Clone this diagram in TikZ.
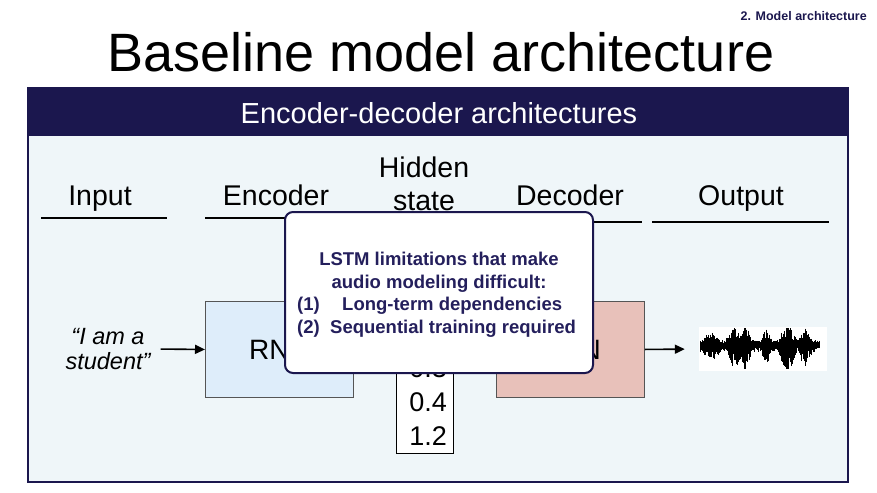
\documentclass[tikz,border=0pt]{standalone}
\usepackage{fontspec}
\setmainfont{Liberation Sans}
\usetikzlibrary{arrows.meta, positioning}

\definecolor{navy}{RGB}{27,23,78}
\definecolor{popupink}{RGB}{36,31,92}
\definecolor{panelbg}{RGB}{239,246,249}
\definecolor{encfill}{RGB}{222,237,250}
\definecolor{decfill}{RGB}{232,193,186}
\definecolor{boxline}{RGB}{85,85,85}

\newcommand{\fsz}[2]{\fontsize{#1}{#2}\selectfont}

\begin{document}
\begin{tikzpicture}[
    x=1pt, y=-1pt,
    heading/.style={font=\fsz{28.5}{33}, anchor=base, inner sep=0pt},
    value/.style={font=\fsz{27}{32}, anchor=base east, inner sep=0pt},
    rule/.style={line width=1.4pt},
    block/.style={
        draw=boxline,
        line width=0.9pt,
        minimum width=148pt,
        minimum height=96pt,
        anchor=north west,
        inner sep=0pt,
        font=\fsz{28}{33}
    },
    flow/.style={line width=1.6pt, -{Triangle[length=10pt, width=9pt]}},
    popuptext/.style={font=\fsz{18.5}{23}\bfseries, text=popupink, anchor=base, inner sep=0pt}
]

\useasboundingbox (0,0) rectangle (877,492);
\fill[white] (0,0) rectangle (877,492);

% panel
\fill[panelbg] (28,136) rectangle (848,482);
\fill[navy] (28,88) rectangle (848,136);
\draw[navy, line width=2.5pt] (28,88) rectangle (848,482);

% titles
\node[font=\fsz{12.5}{14}\bfseries, text=navy, anchor=base east, inner sep=0pt] (section) at (867,21) {2. Model architecture};
\node[font=\fsz{54}{60}, anchor=base, inner sep=0pt] (title) at (441,72) {Baseline model architecture};
\node[font=\fsz{29}{33}, text=white, anchor=base, inner sep=0pt] (band) at (439,124) {Encoder-decoder architectures};

% column headings
\node[heading] (input) at (100,205) {Input};
\node[heading] (encoder) at (276,205) {Encoder};
\node[heading] (hidden) at (424,177) {Hidden};
\node[heading] (state) at (424,210) {state};
\node[heading] (decoder) at (570,205) {Decoder};
\node[heading] (output) at (741,205) {Output};

\draw[rule] (41,218) -- (167,218);
\draw[rule] (205,218) -- (353,218);
\draw[rule] (496,222) -- (642,222);
\draw[rule] (652,222) -- (829,222);

% blocks
\node[block, fill=encfill] (enc) at (205,301) {RNN};
\node[block, fill=decfill] (dec) at (496,301) {RNN};

% hidden state vector
\node[draw=black, line width=0.8pt, fill=white, minimum width=57pt, minimum height=104pt,
      anchor=south west, inner sep=0pt] (vec) at (396,454) {};
\node[value] (v1) at (447,377) {0.3};
\node[value] (v2) at (447,411) {0.4};
\node[value] (v3) at (447,445) {1.2};

% input and output
\node[font=\fsz{23.5}{25}\itshape, align=center, inner sep=0pt] (sentence) at (108,349) {“I am a\\student”};
\node[fill=white, minimum width=128pt, minimum height=44pt, inner sep=0pt] (wave) at (763,349) {};

\draw[flow, shorten <=10pt] (sentence.east) -- (enc.west);
\draw[flow, shorten >=14pt] (dec.east) -- (wave.west);

% waveform
\pgfmathsetseed{11}
\foreach \i in {0,...,238} {
    \pgfmathsetmacro{\px}{700+\i/2}
    \pgfmathsetmacro{\env}{5 + 9*max(0,1-abs(\px-711)/10) + 14*max(0,1-abs(\px-735)/10)
        + 19*max(0,1-abs(\px-746)/5) + 11*max(0,1-abs(\px-766)/6)
        + 19*max(0,1-abs(\px-787)/10) + 13*max(0,1-abs(\px-805)/7)}
    \pgfmathsetmacro{\up}{min(17,\env*(0.35+0.65*rnd))}
    \pgfmathsetmacro{\dn}{min(24,\env*(0.45+0.95*rnd))}
    \draw[line width=0.7pt] (\px,{345-\up}) -- (\px,{345+\dn});
}

% popup
\node[draw=navy, line width=2pt, fill=white, rounded corners=8pt, minimum width=308pt,
      minimum height=161pt, inner sep=0pt] (popup) at (439,292.5) {};
\node[popuptext] (lim1) at (439,265) {LSTM limitations that make};
\node[popuptext] (lim2) at (439,288) {audio modeling difficult:};
\node[popuptext, anchor=base west] (n1) at (297,310) {(1)};
\node[popuptext, anchor=base west] (item1) at (342,310) {Long-term dependencies};
\node[popuptext, anchor=base west] (n2) at (297,333) {(2)};
\node[popuptext, anchor=base west] (item2) at (330,333) {Sequential training required};

\end{tikzpicture}
\end{document}
